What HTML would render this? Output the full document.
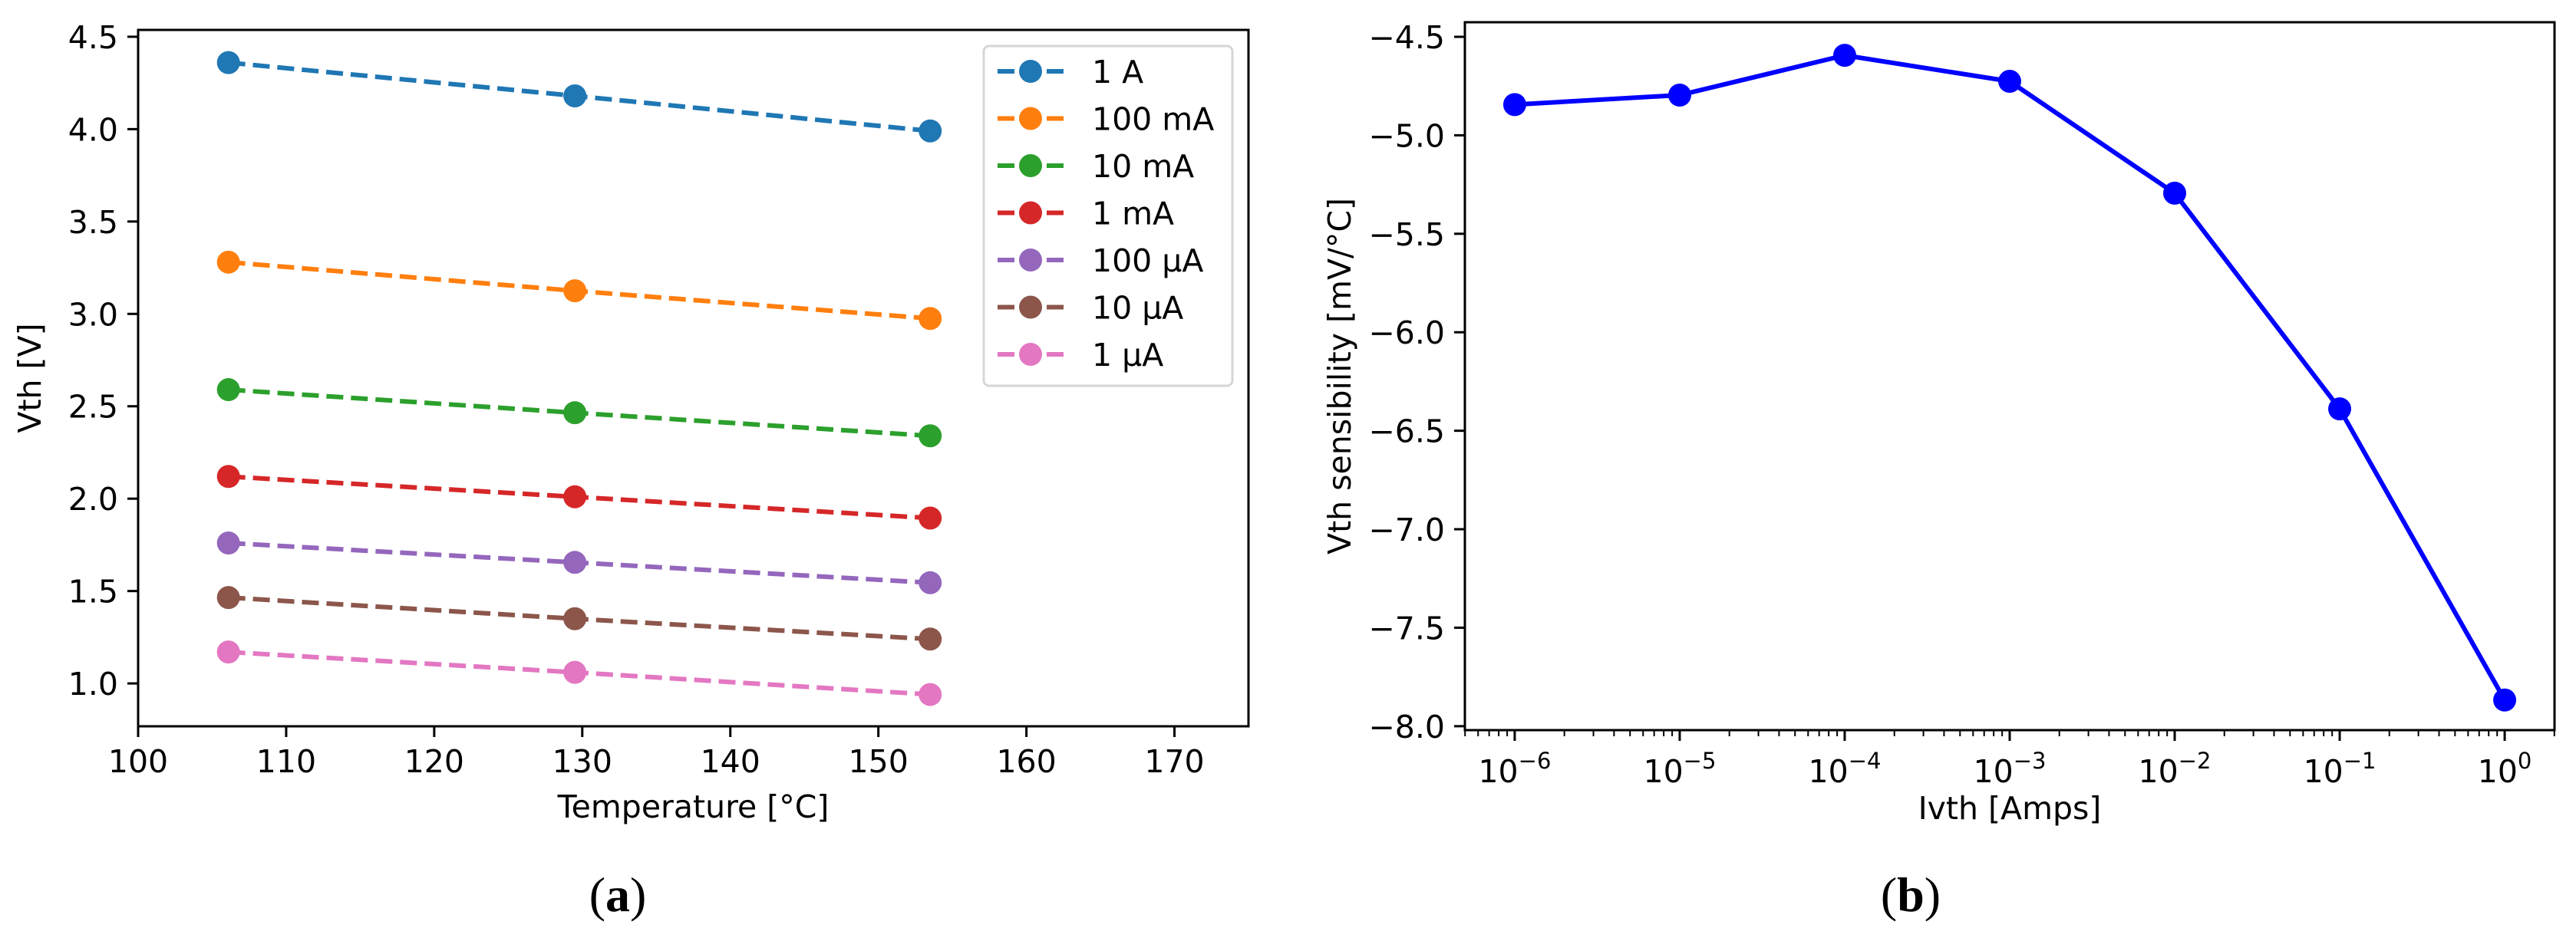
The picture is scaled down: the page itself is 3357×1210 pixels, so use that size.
<!DOCTYPE html>
<html><head><meta charset="utf-8">
<style>
html,body{margin:0;padding:0;background:#fff;}
svg{display:block;font-family:"DejaVu Sans","Liberation Sans",sans-serif;}
</style></head>
<body>
<svg id="fig" width="3357" height="1210" viewBox="0 0 3357 1210" xmlns="http://www.w3.org/2000/svg">
<rect width="3357" height="1210" fill="#fff"/>
<g id="pa"></g>
<g id="pb"></g>
<text x="805" y="1188" font-family="Liberation Serif, serif" font-size="64" text-anchor="middle">(<tspan font-weight="bold">a</tspan>)</text>
<text x="2490" y="1188" font-family="Liberation Serif, serif" font-size="64" text-anchor="middle">(<tspan font-weight="bold">b</tspan>)</text>
</svg>
<script>
// ---- Panel A data ----
const temps = [106.1, 129.5, 153.5];
const seriesNames = ["1 A","100 mA","10 mA","1 mA","100 µA","10 µA","1 µA"];
const seriesColors = ["#1f77b4","#ff7f0e","#2ca02c","#d62728","#9467bd","#8c564b","#e377c2"];
const v1A = [4.36, 4.18, 3.99];
const v100mA = [3.28, 3.125, 2.975];
const v10mA = [2.59, 2.465, 2.34];
const v1mA = [2.12, 2.01, 1.895];
const v100uA = [1.76, 1.655, 1.545];
const v10uA = [1.465, 1.35, 1.24];
const v1uA = [1.17, 1.06, 0.94];
const aXTicks = [100,110,120,130,140,150,160,170];
const aYTicks = [1.0,1.5,2.0,2.5,3.0,3.5,4.0,4.5];
// ---- Panel B data ----
const currentsExp = [-6,-5,-4,-3,-2,-1,0];
const sensitivity = [-4.844, -4.796, -4.594, -4.726, -5.294, -6.389, -7.867];
const bYTicks = [-8.0,-7.5,-7.0,-6.5,-6.0,-5.5,-5.0,-4.5];
const bXTickExps = [-6,-5,-4,-3,-2,-1,0];

const NS = "http://www.w3.org/2000/svg";
function mk(parent, tag, attrs, text){
  const e = document.createElementNS(NS, tag);
  for (const k in attrs) e.setAttribute(k, attrs[k]);
  if (text !== undefined) e.textContent = text;
  parent.appendChild(e); return e;
}
const FS = 41;

// ===== Panel A =====
const pa = document.getElementById('pa');
const A = {l:180, r:1627, t:39, b:947, x0:100, x1:175, y0:0.768, y1:4.537};
const ax = v => A.l + (v - A.x0) / (A.x1 - A.x0) * (A.r - A.l);
const ay = v => A.b - (v - A.y0) / (A.y1 - A.y0) * (A.b - A.t);
const aSeries = [v1A, v100mA, v10mA, v1mA, v100uA, v10uA, v1uA];

aSeries.forEach((vals, i) => {
  const g = mk(pa, 'g', {});
  
  
  const pts = vals.map((v, j) => ax(temps[j]) + ',' + ay(v)).join(' ');
  const pl = mk(g, 'polyline', {points: pts, fill: 'none', stroke: seriesColors[i], 'stroke-width': 6, 'stroke-dasharray': '22 10'});
  
  
  vals.forEach((v, j) => {
    const c = mk(g, 'circle', {cx: ax(temps[j]), cy: ay(v), r: 15, fill: seriesColors[i]});
    
    
  });
});
// frame
const fa = mk(pa, 'rect', {x: A.l, y: A.t, width: A.r - A.l, height: A.b - A.t, fill: 'none', stroke: '#000', 'stroke-width': 3});


aXTicks.forEach(t => {
  const x = ax(t);
  const tl = mk(pa, 'line', {x1: x, x2: x, y1: A.b, y2: A.b + 14, stroke: '#000', 'stroke-width': 3});
  
  
  const tx = mk(pa, 'text', {x: x, y: A.b + 60, 'font-size': FS, 'text-anchor': 'middle'}, String(t));
  
  
});
aYTicks.forEach(t => {
  const y = ay(t);
  const tl = mk(pa, 'line', {x1: A.l - 14, x2: A.l, y1: y, y2: y, stroke: '#000', 'stroke-width': 3});
  
  
  const tx = mk(pa, 'text', {x: A.l - 26, y: y + 15, 'font-size': FS, 'text-anchor': 'end'}, t.toFixed(1));
  
  
});
const axl = mk(pa, 'text', {x: (A.l + A.r) / 2, y: 1066, 'font-size': FS, 'text-anchor': 'middle'}, 'Temperature [°C]');


const ayl = mk(pa, 'text', {x: 0, y: 0, 'font-size': FS, 'text-anchor': 'middle', transform: 'translate(53,' + ((A.t + A.b) / 2) + ') rotate(-90)'}, 'Vth [V]');


// legend
const lg = mk(pa, 'g', {});


mk(lg, 'rect', {x: 1282, y: 60, width: 324, height: 443, rx: 7, fill: '#fff', 'fill-opacity': 0.8, stroke: '#d6d6d6', 'stroke-width': 3});
seriesNames.forEach((n, i) => {
  const y = 93 + i * 61.5;
  const e = mk(lg, 'g', {});
  
  
  mk(e, 'line', {x1: 1300, x2: 1386, y1: y, y2: y, stroke: seriesColors[i], 'stroke-width': 6, 'stroke-dasharray': '22 10'});
  mk(e, 'circle', {cx: 1343, cy: y, r: 15, fill: seriesColors[i]});
  mk(e, 'text', {x: 1423, y: y + 15, 'font-size': FS}, n);
});

// ===== Panel B =====
const pb = document.getElementById('pb');
const B = {l:1909, r:3329, t:29, b:952, x0:-6.302, x1:0.302, y0:-8.02, y1:-4.426};
const bx = e => B.l + (e - B.x0) / (B.x1 - B.x0) * (B.r - B.l);
const by = v => B.b - (v - B.y0) / (B.y1 - B.y0) * (B.b - B.t);
const bpts = sensitivity.map((v, i) => bx(currentsExp[i]) + ',' + by(v)).join(' ');
const bl = mk(pb, 'polyline', {points: bpts, fill: 'none', stroke: '#0000ff', 'stroke-width': 6});


sensitivity.forEach((v, i) => {
  const c = mk(pb, 'circle', {cx: bx(currentsExp[i]), cy: by(v), r: 15, fill: '#0000ff'});
  
  
});
const fb = mk(pb, 'rect', {x: B.l, y: B.t, width: B.r - B.l, height: B.b - B.t, fill: 'none', stroke: '#000', 'stroke-width': 3});


for (let d = -7; d <= 0; d++) {
  for (let m = 2; m <= 9; m++) {
    const e = d + Math.log10(m);
    if (e < B.x0 || e > B.x1) continue;
    const x = bx(e);
    const tl = mk(pb, 'line', {x1: x, x2: x, y1: B.b, y2: B.b + 8, stroke: '#000', 'stroke-width': 2});
    
    
  }
}
bXTickExps.forEach(e => {
  const x = bx(e);
  const tl = mk(pb, 'line', {x1: x, x2: x, y1: B.b, y2: B.b + 14, stroke: '#000', 'stroke-width': 3});
  
  
  const tx = mk(pb, 'text', {x: x, y: B.b + 68, 'font-size': FS, 'text-anchor': 'middle'});
  
  
  tx.appendChild(document.createTextNode('10'));
  const sup = mk(tx, 'tspan', {dy: -18, 'font-size': 29}, e === 0 ? '0' : '\u2212' + Math.abs(e));
});
bYTicks.forEach(t => {
  const y = by(t);
  const tl = mk(pb, 'line', {x1: B.l - 14, x2: B.l, y1: y, y2: y, stroke: '#000', 'stroke-width': 3});
  
  
  const tx = mk(pb, 'text', {x: B.l - 26, y: y + 15, 'font-size': FS, 'text-anchor': 'end'}, '\u2212' + Math.abs(t).toFixed(1));
  
  
});
const bxl = mk(pb, 'text', {x: (B.l + B.r) / 2, y: 1068, 'font-size': FS, 'text-anchor': 'middle'}, 'Ivth [Amps]');


const byl = mk(pb, 'text', {x: 0, y: 0, 'font-size': FS, 'text-anchor': 'middle', transform: 'translate(1760,' + ((B.t + B.b) / 2) + ') rotate(-90)'}, 'Vth sensibility [mV/°C]');


</script>
</body></html>
